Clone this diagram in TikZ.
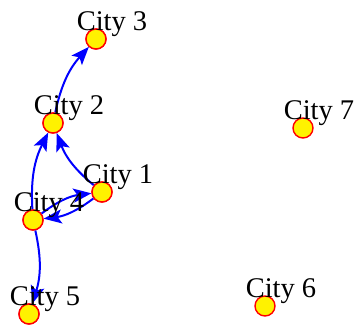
\documentclass[tikz,border=0pt]{standalone}
\usepackage{fontspec}
\setmainfont{Liberation Serif}
\usetikzlibrary{arrows.meta}
\begin{document}
\begin{tikzpicture}[x=1pt,y=-1pt,
  city/.style={circle,draw=red,fill=yellow,line width=1.4pt,minimum size=20pt,inner sep=0pt},
  lab/.style={anchor=base,inner sep=0pt,font=\fontsize{28.5}{30}\selectfont},
  edge/.style={draw=blue,line width=2pt,-{Stealth[length=18pt,width=14pt,inset=4pt]},bend left=15}]
\useasboundingbox (0,0) rectangle (357,325);
\node[city] (c1) at (102,192) {};
\node[city] (c2) at (53,123) {};
\node[city] (c3) at (96,39) {};
\node[city] (c4) at (33,220) {};
\node[city] (c5) at (29,314) {};
\node[city] (c6) at (265,306) {};
\node[city] (c7) at (303,128) {};
\draw[edge] (c2) to (c3);
\draw[edge] (c1) to (c2);
\draw[edge] (c4) to (c2);
\draw[edge] (c4) to (c1);
\draw[edge] (c1) to (c4);
\draw[edge] (c4) to (c5);
\node[city] at (c1) {};
\node[city] at (c2) {};
\node[city] at (c3) {};
\node[city] at (c4) {};
\node[city] at (c5) {};
\node[lab] (l1) at (118,183) {City 1};
\node[lab] (l2) at (69,114) {City 2};
\node[lab] (l3) at (112,30) {City 3};
\node[lab] (l4) at (49,211) {City 4};
\node[lab] (l5) at (45,305) {City 5};
\node[lab] (l6) at (281,297) {City 6};
\node[lab] (l7) at (319,119) {City 7};
\end{tikzpicture}
\end{document}
